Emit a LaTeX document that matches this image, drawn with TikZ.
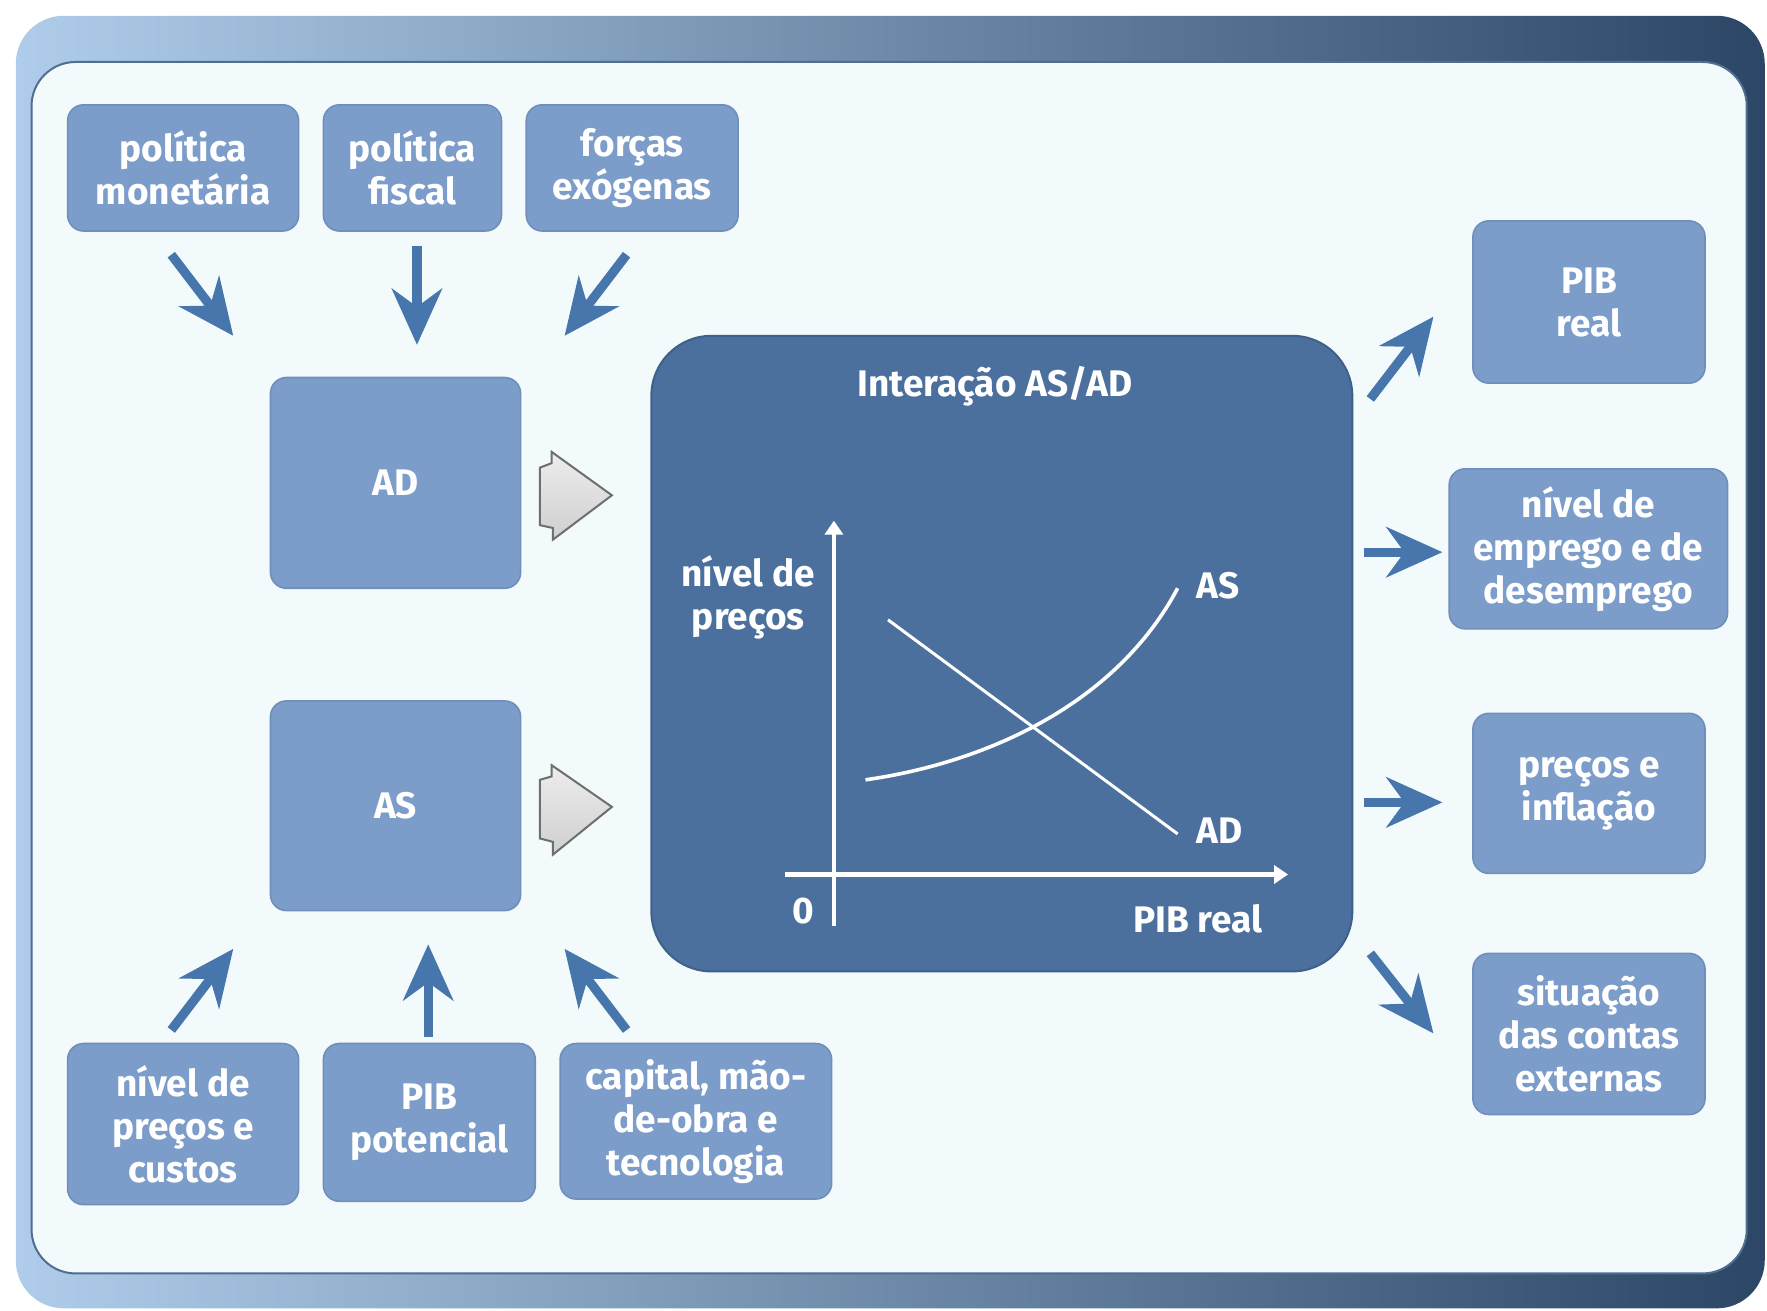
\documentclass[tikz,border=0pt]{standalone}
\usepackage{fontspec}
\setmainfont{Fira Sans}
\usetikzlibrary{arrows.meta}

\definecolor{frameL}{HTML}{AFCDEA}
\definecolor{frameR}{HTML}{2C4766}
\definecolor{frameedge}{HTML}{4E6E92}
\definecolor{paper}{HTML}{F2FAFC}
\definecolor{boxblue}{HTML}{7C9DC9}
\definecolor{boxedge}{HTML}{6F8FBA}
\definecolor{midblue}{HTML}{4B709D}
\definecolor{midedge}{HTML}{3F6189}
\definecolor{arrblue}{HTML}{4676AB}
\definecolor{hollowtop}{HTML}{EDEDED}
\definecolor{hollowbot}{HTML}{CFCFCF}
\definecolor{hollowedge}{HTML}{6E6E6E}

% unit of the drawing grid
\newcommand{\gridu}{0.5635pt}
% rounded box spanning two corners: name, x1, y1, x2, y2, style, text
\newcommand{\spanbox}[7]{%
  \node[#6,minimum width={(#4-#2)*\gridu},minimum height={(#5-#3)*\gridu}]
    (#1) at ({(#2+#4)/2},{(#3+#5)/2}) {#7};}

\begin{document}
\begin{tikzpicture}[x=0.5635pt,y=-0.5635pt,
  txt/.style={text=white,font=\bfseries\fontsize{18.5}{21.5}\selectfont,align=center},
  box/.style={txt,fill=boxblue,draw=boxedge,line width=0.8pt,rounded corners=8pt,inner sep=0pt},
  bigbox/.style={fill=midblue,draw=midedge,line width=1pt,rounded corners=30pt,inner sep=0pt},
  flow/.style={draw=arrblue,line width=4.6pt,
    -{Stealth[length=28pt,width=25pt,inset=9pt]}},
  hollow/.style={top color=hollowtop,bottom color=hollowbot,draw=hollowedge,
    line width=1pt,line join=miter},
  axis/.style={draw=white,line width=2.2pt,-{Triangle[length=7pt,width=9pt]}},
  curve/.style={draw=white,line width=1.8pt},
]
\useasboundingbox (0,0) rectangle (1568,1163);

% frame
\shade[left color=frameL,right color=frameR,rounded corners=24pt]
  (14,14) rectangle (1566,1161);
\fill[paper,draw=frameedge,line width=1pt,rounded corners=22pt]
  (28,55) rectangle (1550,1130);

% input boxes
\spanbox{pm}{60}{93}{265}{205}{box}{política\\monetária}
\spanbox{pf}{287}{93}{445}{205}{box}{política\\fiscal}
\spanbox{fe}{467}{93}{655}{205}{box}{forças\\exógenas}
\spanbox{npc}{60}{926}{265}{1069}{box}{nível de\\preços e\\custos}
\spanbox{pot}{287}{926}{475}{1066}{box}{PIB\\potencial}
\spanbox{cap}{497}{926}{738}{1064}{box}{capital, mão-\\de-obra e\\tecnologia}

% AD and AS
\spanbox{ad}{240}{335}{462}{522}{box}{AD}
\spanbox{as}{240}{622}{462}{808}{box}{AS}

% result boxes
\spanbox{pib}{1307}{196}{1513}{340}{box}{PIB\\real}
\spanbox{emp}{1286}{416}{1533}{558}{box}{nível de\\emprego e de\\desemprego}
\spanbox{inf}{1307}{633}{1513}{775}{box}{preços e\\inflação}
\spanbox{ext}{1307}{846}{1513}{989}{box}{situação\\das contas\\externas}

% central panel
\spanbox{mid}{578}{298}{1200}{862}{bigbox}{}
\node[txt] (title) at (883,343) {Interação AS/AD};

% graph
\coordinate (yb) at (740,822);
\coordinate (yt) at (740,462);
\coordinate (xl) at (697,776);
\coordinate (xr) at (1143,776);
\draw[axis] (yb) -- (yt);
\draw[axis] (xl) -- (xr);
\coordinate (as0) at (768,692);
\coordinate (as1) at (1045,522);
\coordinate (ad0) at (788,550);
\coordinate (ad1) at (1045,740);
\draw[curve] (as0) .. controls (880,676) and (992,622) .. (as1);
\draw[curve,line width=1.5pt] (ad0) -- (ad1);
\node[txt] (lAS) at (1081,520) {AS};
\node[txt] (lAD) at (1082,737) {AD};
\node[txt] (lzero) at (713,808) {0};
\node[txt] (lx) at (1063,815) {PIB real};
\node[txt] (ly) at (664,530) {nível de\\preços};

% hollow arrows into the panel
\path[hollow] (489.5,401) -- (543,439.5) -- (490.5,479) -- (490.5,468.5)
  -- (479,466) -- (479,415) -- (489.5,411) -- cycle;
\path[hollow] (489.5,679) -- (543,716) -- (490.5,758.5) -- (490.5,747)
  -- (479,744) -- (479,692) -- (489.5,689) -- cycle;

% influence arrows
\coordinate (p1s) at (152,226); \coordinate (p1e) at (207,298);
\coordinate (p2s) at (370,218); \coordinate (p2e) at (370,306);
\coordinate (p3s) at (556,226); \coordinate (p3e) at (501,298);
\draw[flow] (p1s) -- (p1e);
\draw[flow] (p2s) -- (p2e);
\draw[flow] (p3s) -- (p3e);

\coordinate (q1s) at (152,914); \coordinate (q1e) at (207,842);
\coordinate (q2s) at (380,920); \coordinate (q2e) at (380,838);
\coordinate (q3s) at (556,914); \coordinate (q3e) at (501,842);
\draw[flow] (q1s) -- (q1e);
\draw[flow] (q2s) -- (q2e);
\draw[flow] (q3s) -- (q3e);

\coordinate (r1s) at (1216,354); \coordinate (r1e) at (1272,281);
\coordinate (r2s) at (1210,490); \coordinate (r2e) at (1280,490);
\coordinate (r3s) at (1210,712); \coordinate (r3e) at (1280,712);
\coordinate (r4s) at (1216,846); \coordinate (r4e) at (1272,917);
\draw[flow] (r1s) -- (r1e);
\draw[flow] (r2s) -- (r2e);
\draw[flow] (r3s) -- (r3e);
\draw[flow] (r4s) -- (r4e);
\end{tikzpicture}
\end{document}
